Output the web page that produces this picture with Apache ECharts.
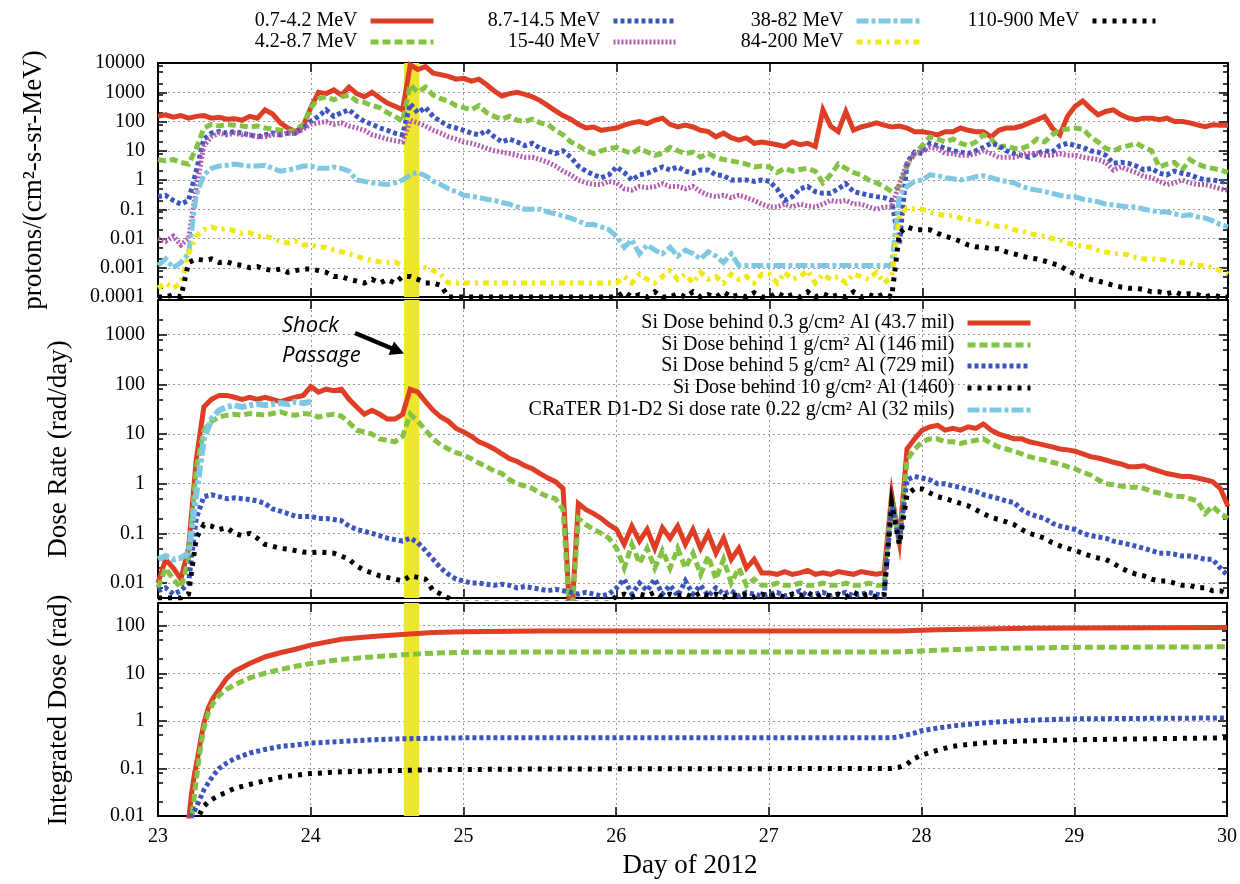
<!DOCTYPE html>
<html><head><meta charset="utf-8">
<script src="https://cdn.jsdelivr.net/npm/echarts@6.0.0/dist/echarts.min.js"></script>
<style>html,body{margin:0;padding:0;background:#fff}#c{width:1240px;height:884px}</style>
</head><body><div id="c"></div>
<script>
// ---------- sampling grid (day of 2012, 0.05 day steps) ----------
const days = Array.from({length: 141}, (_, i) => +(23 + i * 0.05).toFixed(2));
const dayTicks = [23, 24, 25, 26, 27, 28, 29, 30];
const fluxTicks = [0.0001, 0.001, 0.01, 0.1, 1, 10, 100, 1000, 10000];
const rateTicks = [0.01, 0.1, 1, 10, 100, 1000];
const doseTicks = [0.01, 0.1, 1, 10, 100];
const shockStart = 24.61, shockEnd = 24.71;

// ---------- proton flux, protons/(cm2-s-sr-MeV) ----------
const fluxNames = ['0.7-4.2 MeV', '4.2-8.7 MeV', '8.7-14.5 MeV', '15-40 MeV', '38-82 MeV', '84-200 MeV', '110-900 MeV'];
const flux07_42 = [
 150,170,140,160,130,150,160,130,140,120,125,110,150,130,250,180,90,60,45,70,
 300,1000,900,1200,800,1500,900,700,1000,650,430,330,250,8500,6000,7500,4500,4000,3500,2800,
 3000,2400,2800,1800,1100,750,900,1000,850,700,520,350,230,160,120,80,60,65,50,55,
 60,75,90,100,85,110,130,80,65,75,65,50,45,30,40,28,23,28,18,20,
 18,16,14,20,16,18,14,250,70,45,220,50,65,75,90,75,65,70,60,45,
 45,40,35,45,45,60,50,45,45,30,50,60,60,70,90,115,150,60,35,150,
 330,500,280,170,220,250,170,130,115,130,130,115,130,100,100,90,77,67,77,75,
 75];
const flux42_87 = [
 5,4.5,5,4,3.5,12,60,80,70,80,75,70,65,70,60,55,50,45,50,80,
 300,600,700,550,700,800,500,450,350,300,200,150,100,1800,1000,1500,800,600,500,350,
 300,250,350,200,150,120,150,110,100,120,90,80,50,35,20,15,10,8,10,12,
 13,10,8,12,9,7,8,13,10,8,9,6,8,6,5,4.5,4,3.5,2.8,3,
 2.8,1.8,2.5,2,2.3,2.5,2,0.8,1.5,3.5,2.5,1.8,1.5,1,0.8,0.6,0.4,0.6,3,8,
 15,30,25,20,25,18,15,20,35,25,13,15,12,12,15,25,20,35,52,55,
 60,55,30,20,12,10,13,15,18,13,10,2.8,3.5,4,2.2,5,3.5,2.8,2.5,2.2,
 1.8];
const flux87_145 = [
 0.27,0.3,0.2,0.15,0.2,2,25,40,45,40,45,40,35,30,35,40,35,40,40,60,
 100,150,250,150,200,250,150,100,80,60,50,40,35,400,200,300,150,100,70,60,
 50,40,35,50,30,20,25,20,15,18,12,10,8,10,6,3,2,1.5,1.2,1.5,
 2.8,1.8,1,1.5,1.7,2.2,2.8,2.2,2.8,2,1.7,2.2,2.2,1.5,1.4,1,1,1,0.9,1,
 0.9,0.5,0.2,0.27,0.5,0.6,0.4,0.35,0.35,0.5,0.75,0.4,0.35,0.3,0.27,0.25,0.2,0.006,4,9,
 8,18,15,12,10,9,8,10,13,18,15,10,8,7,6,8,10,9,15,18,
 15,13,10,9,7,3.7,4,3.7,3,2.2,2.5,1.7,1.5,2,1.7,1.5,1.2,1,1,0.9,
 0.8];
const flux15_40 = [
 0.01,0.008,0.012,0.006,0.01,0.5,15,30,40,35,40,35,35,30,30,35,35,40,40,55,
 80,90,100,80,90,70,60,50,35,30,25,22,20,110,90,70,50,40,30,25,
 20,18,15,12,10,9,8,7,6,6,5,4,3,2,1.5,1,0.8,0.7,0.7,0.9,
 0.8,0.5,0.45,0.6,0.55,0.6,0.75,0.6,0.6,0.5,0.6,0.4,0.3,0.27,0.3,0.25,0.3,0.25,0.2,0.15,
 0.12,0.12,0.15,0.12,0.15,0.13,0.12,0.15,0.2,0.18,0.2,0.15,0.15,0.12,0.1,0.12,0.12,0.75,3.7,8,
 10,13,12,8,8,7,7,8,10,8,6,6,6,7,8,8,7,7,8,7,
 7,6,5.5,5,4,2.2,2.8,2.2,1.8,1.3,1.2,0.9,0.7,0.8,1,0.8,0.7,0.7,0.6,0.5,
 0.45];
const flux38_82 = [
 0.0012,0.002,0.001,0.0015,0.003,0.3,1.5,2.5,3,3.2,3.5,3.2,3,3,3.2,2.5,2,2.2,2.5,3,
 3,2.5,2.5,2.8,2.5,2,1,0.9,0.8,0.75,0.7,0.8,1,1.5,1.8,1.4,0.9,0.7,0.5,0.4,
 0.3,0.28,0.25,0.22,0.2,0.17,0.15,0.12,0.1,0.1,0.1,0.08,0.07,0.06,0.05,0.04,0.03,0.03,0.025,0.02,
 0.012,0.005,0.009,0.003,0.006,0.004,0.003,0.005,0.0025,0.004,0.003,0.002,0.0035,0.0025,0.0015,0.003,0.0012,0.0012,0.0012,0.0012,
 0.0012,0.0012,0.0012,0.0012,0.0012,0.0012,0.0012,0.0012,0.0012,0.0012,0.0012,0.0012,0.0012,0.0012,0.0012,0.0012,0.0012,0.3,0.6,0.9,
 1,1.5,1.4,1.2,1.1,1,1.1,1.3,1.4,1.2,1,0.9,0.8,0.6,0.5,0.45,0.4,0.35,0.3,0.27,
 0.27,0.22,0.2,0.18,0.15,0.14,0.13,0.12,0.12,0.1,0.09,0.08,0.08,0.07,0.06,0.065,0.055,0.05,0.04,0.03,
 0.025];
const flux84_200 = [
 0.0002,0.0003,0.0002,0.0003,0.003,0.012,0.02,0.025,0.02,0.022,0.018,0.015,0.016,0.012,0.012,0.01,0.008,0.007,0.008,0.006,
 0.006,0.005,0.005,0.004,0.0035,0.003,0.0025,0.002,0.0018,0.0016,0.0015,0.0016,0.0012,0.0012,0.001,0.001,0.0008,0.0006,0.0003,0.0003,
 0.0003,0.0003,0.0003,0.0003,0.0003,0.0003,0.0003,0.0003,0.0003,0.0003,0.0003,0.0003,0.0003,0.0003,0.0003,0.0003,0.0003,0.0003,0.0003,0.0003,
 0.0003,0.0005,0.0003,0.0006,0.0004,0.0003,0.0005,0.0008,0.0004,0.0006,0.0003,0.0007,0.0004,0.0005,0.0003,0.0006,0.0004,0.0005,0.0003,0.0006,
 0.0006,0.0003,0.0007,0.0004,0.0005,0.0008,0.0003,0.0006,0.0004,0.0005,0.0003,0.0006,0.0005,0.0004,0.0007,0.0003,0.0005,0.06,0.11,0.1,
 0.1,0.08,0.07,0.06,0.06,0.05,0.045,0.04,0.035,0.03,0.025,0.025,0.02,0.018,0.015,0.013,0.012,0.01,0.009,0.007,
 0.006,0.0055,0.005,0.004,0.0035,0.003,0.003,0.0028,0.0022,0.002,0.002,0.002,0.0018,0.0016,0.0015,0.0014,0.0012,0.0012,0.001,0.0008,
 0.0006];
const flux110_900 = [
 0.0001,0.0001,0.00012,0.0001,0.0015,0.002,0.0018,0.002,0.0015,0.0016,0.0013,0.0012,0.001,0.0011,0.0009,0.0008,0.0009,0.0007,0.0008,0.0009,
 0.0009,0.0008,0.0007,0.0005,0.0005,0.0004,0.00035,0.0003,0.0004,0.0003,0.0004,0.0003,0.0005,0.0005,0.0004,0.0003,0.0003,0.00025,0.0001,0.0001,
 0.0001,0.0001,0.0001,0.0001,0.0001,0.0001,0.0001,0.0001,0.0001,0.0001,0.0001,0.0001,0.0001,0.0001,0.0001,0.0001,0.0001,0.0001,0.0001,0.0001,
 0.0001,0.00015,0.0001,0.00012,0.0001,0.00015,0.0001,0.0001,0.00013,0.0001,0.00015,0.0001,0.00012,0.0001,0.00015,0.0001,0.00012,0.0001,0.00014,0.0001,
 0.0001,0.00014,0.0001,0.00012,0.0001,0.00015,0.0001,0.00013,0.0001,0.00012,0.0001,0.00015,0.0001,0.00012,0.0001,0.00013,0.0001,0.015,0.025,0.02,
 0.02,0.02,0.015,0.012,0.01,0.008,0.006,0.0052,0.005,0.0045,0.0045,0.0035,0.003,0.0025,0.0022,0.002,0.0017,0.0014,0.0012,0.0008,
 0.0006,0.0005,0.0004,0.00035,0.0003,0.00025,0.00022,0.0002,0.0002,0.00018,0.00015,0.00015,0.00013,0.00015,0.00012,0.00013,0.00012,0.0001,0.00012,0.0001,
 0.0001];

// ---------- dose rate, rad/day ----------
const rateNames = [
 'Si Dose behind 0.3 g/cm\u00B2 Al (43.7 mil)',
 'Si Dose behind 1 g/cm\u00B2 Al (146 mil)',
 'Si Dose behind 5 g/cm\u00B2 Al (729 mil)',
 'Si Dose behind 10 g/cm\u00B2 Al (1460)',
 'CRaTER D1-D2 Si dose rate 0.22 g/cm\u00B2 Al (32 mils)'];
const rate03 = [
 0.01,0.03,0.02,0.012,0.05,3,35,50,60,60,55,50,55,50,55,50,45,50,55,60,
 90,70,80,75,80,50,35,25,30,25,20,20,25,80,70,45,30,22,18,13,
 11,9,7,6,5,4,3.2,2.8,2.3,2,1.6,1.3,1.1,0.8,0.001,0.4,0.3,0.25,0.2,0.15,
 0.12,0.06,0.14,0.07,0.12,0.05,0.13,0.08,0.14,0.06,0.12,0.05,0.1,0.04,0.08,0.03,0.05,0.02,0.03,0.016,
 0.016,0.015,0.017,0.015,0.016,0.018,0.015,0.016,0.015,0.017,0.016,0.015,0.017,0.016,0.015,0.016,0.6,0.07,5,8,
 12,14,15,12,13,12,14,13,16,12,10,9,8,8,7,6.5,6,5.5,5,4.8,
 4.5,4,3.5,3.3,3,2.7,2.5,2.2,2.2,2.3,2,1.8,1.6,1.5,1.4,1.4,1.3,1.2,1.1,0.8,
 0.35];
const rate1 = [
 0.008,0.02,0.012,0.008,0.03,2,12,18,22,24,25,24,26,25,24,26,28,25,24,26,
 25,22,24,25,23,17,12,11,10,8,7.5,7,9,25,18,12,8,6,5,4.2,
 3.8,3.2,2.6,2.2,1.8,1.6,1.2,1,0.9,0.8,0.65,0.55,0.5,0.3,0.001,0.2,0.15,0.12,0.1,0.08,
 0.05,0.02,0.06,0.025,0.05,0.02,0.045,0.02,0.05,0.02,0.04,0.015,0.035,0.012,0.03,0.01,0.02,0.009,0.012,0.009,
 0.009,0.01,0.009,0.009,0.01,0.009,0.009,0.01,0.009,0.009,0.01,0.009,0.009,0.01,0.009,0.009,0.5,0.06,3,5,
 7,8,8,7,7,6.5,7,7.5,8,6.5,5.5,5,4.5,4,3.5,3.2,3,2.7,2.5,2.2,
 2,1.7,1.5,1.2,1,0.95,0.9,0.85,0.85,0.8,0.7,0.65,0.6,0.55,0.55,0.5,0.45,0.25,0.35,0.25,
 0.2];
const rate5 = [
 0.007,0.008,0.006,0.007,0.01,0.2,0.55,0.6,0.55,0.5,0.52,0.5,0.48,0.45,0.4,0.31,0.28,0.25,0.22,0.22,
 0.22,0.2,0.2,0.19,0.18,0.14,0.12,0.11,0.1,0.09,0.08,0.075,0.07,0.08,0.065,0.045,0.03,0.02,0.015,0.012,
 0.011,0.01,0.01,0.0095,0.009,0.0095,0.009,0.008,0.0085,0.008,0.0075,0.007,0.0075,0.007,0.0065,0.006,0.0065,0.006,0.0055,0.006,
 0.008,0.012,0.006,0.01,0.007,0.012,0.006,0.009,0.0055,0.011,0.006,0.009,0.0055,0.008,0.006,0.007,0.0055,0.0065,0.006,0.0055,
 0.006,0.0065,0.0055,0.006,0.007,0.0055,0.006,0.0065,0.0055,0.006,0.0065,0.0055,0.006,0.0065,0.006,0.0055,0.4,0.07,1.2,1.4,
 1.3,1.2,1,1,0.9,0.85,0.75,0.7,0.6,0.55,0.5,0.45,0.42,0.3,0.25,0.22,0.2,0.16,0.14,0.13,
 0.12,0.1,0.09,0.085,0.08,0.07,0.065,0.06,0.055,0.05,0.045,0.04,0.04,0.038,0.035,0.035,0.033,0.03,0.03,0.02,
 0.014];
const rate10 = [
 0.005,0.005,0.005,0.005,0.006,0.08,0.15,0.14,0.12,0.13,0.1,0.09,0.1,0.08,0.06,0.055,0.05,0.048,0.045,0.042,
 0.041,0.042,0.041,0.04,0.035,0.03,0.022,0.018,0.016,0.014,0.013,0.012,0.011,0.014,0.013,0.012,0.007,0.006,0.005,0.004,
 0.004,0.004,0.004,0.004,0.004,0.004,0.004,0.004,0.004,0.004,0.004,0.004,0.004,0.004,0.004,0.004,0.004,0.004,0.004,0.004,
 0.0055,0.006,0.0052,0.006,0.0055,0.0065,0.0052,0.006,0.0055,0.006,0.0052,0.0065,0.0055,0.006,0.0052,0.006,0.0055,0.006,0.0052,0.006,
 0.0055,0.006,0.0052,0.006,0.0055,0.0065,0.0052,0.006,0.0055,0.006,0.0052,0.0065,0.0055,0.006,0.0052,0.006,0.4,0.06,0.6,0.8,
 0.78,0.65,0.55,0.5,0.45,0.4,0.36,0.3,0.25,0.21,0.19,0.17,0.15,0.12,0.1,0.09,0.08,0.065,0.056,0.05,
 0.045,0.04,0.035,0.032,0.03,0.025,0.02,0.017,0.015,0.014,0.012,0.011,0.011,0.01,0.009,0.009,0.008,0.008,0.007,0.007,
 0.006];
const rateCrater = [
 0.03,0.035,0.03,0.032,0.04,0.6,8,20,30,35,38,35,38,40,38,40,42,40,45,42,
 45];

// ---------- integrated dose, rad ----------
const intDays = [23.18,23.2,23.22,23.24,23.26,23.28,23.3,23.33,23.36,23.4,
 23.45,23.5,23.6,23.7,23.8,23.9,24.0,24.2,24.4,24.6,
 24.8,25.0,25.5,26.0,26.5,27.0,27.5,27.8,27.85,27.9,
 27.95,28.0,28.1,28.2,28.3,28.4,28.5,28.7,29.0,29.5,30.0];
const dose03 = [0.004,0.008,0.03,0.08,0.17,0.4,0.88,1.9,3.0,4.6,
 7.8,11,16,22,27,32,39,52,59,65,
 72,75,77,77,77,77,77,77,77,78,
 79,80,82,83,84,85,86,88,90,91,92];
const dose1 = [0.002,0.004,0.008,0.03,0.1,0.3,0.7,1.5,2.3,3.4,
 4.6,5.7,8,10,12,14,16,19.5,22,24.5,
 26.5,27.5,28,28,28,28,28,28,28.2,28.5,
 29,29.5,30.5,31.5,32,33,33.5,34,35,35.5,36];
const dose5 = [0.005,0.007,0.01,0.013,0.018,0.025,0.035,0.05,0.07,0.1,
 0.13,0.16,0.21,0.25,0.29,0.31,0.34,0.37,0.4,0.42,
 0.43,0.44,0.44,0.44,0.44,0.44,0.44,0.44,0.46,0.5,
 0.55,0.62,0.7,0.78,0.84,0.9,0.95,1.03,1.1,1.13,1.15];
const dose10 = [0.003,0.004,0.005,0.007,0.009,0.012,0.016,0.02,0.023,0.027,
 0.032,0.038,0.046,0.055,0.065,0.072,0.078,0.085,0.088,0.091,
 0.094,0.095,0.097,0.098,0.098,0.099,0.1,0.1,0.105,0.12,
 0.16,0.19,0.24,0.29,0.32,0.34,0.36,0.38,0.4,0.42,0.44];

// ---------- styles ----------
const FONT = 'Liberation Serif';
const ST = {
  red:     {color: '#DE3D26', width: 5, type: 'solid'},
  green:   {color: '#84C243', width: 5, type: [8, 4]},
  blue:    {color: '#3C55BE', width: 5, type: [4, 3]},
  magenta: {color: '#B25CB2', width: 5, type: [2, 2]},
  cyan:    {color: '#7EC8E2', width: 5, type: [12, 3, 4, 3]},
  yellow:  {color: '#F0E814', width: 5, type: [6, 5, 3, 5]},
  black:   {color: '#000000', width: 5, type: [4, 6]}
};
const grids = [
  {left: 158, right: 12, top: 63, height: 234},
  {left: 158, right: 12, top: 300, height: 298},
  {left: 158, right: 12, top: 603, height: 213}
];
const yRange = [[1e-4, 1e4], [0.005, 5000], [0.01, 300]];
const majors = [fluxTicks, rateTicks, doseTicks];
function minorsFor(r) {
  const out = [];
  for (let e = -5; e <= 4; e++) for (const m of [2, 5, 8]) {
    const v = +(m * Math.pow(10, e)).toPrecision(3);
    if (v > r[0] * 1.0001 && v < r[1] * 0.9999) out.push(v);
  }
  return out;
}
const fmt = v => String(+(+v).toPrecision(4));
const gridLine = {show: true, lineStyle: {color: '#9a9a9a', type: [2, 3], width: 1}};
const axLine = {show: true, onZero: false, lineStyle: {color: '#000', width: 2}};

const xAxis = [], yAxis = [];
grids.forEach((g, gi) => {
  xAxis.push({gridIndex: gi, type: 'value', min: 23, max: 30, interval: 1, position: 'bottom',
    axisLine: axLine, axisTick: {inside: true, length: 9, lineStyle: {color: '#000', width: 1.5}},
    axisLabel: {show: gi === 2, fontFamily: FONT, fontSize: 20, color: '#000', margin: 11, formatter: fmt},
    splitLine: gridLine});
  xAxis.push({gridIndex: gi, type: 'value', min: 23, max: 30, interval: 1, position: 'top',
    axisLine: axLine, axisTick: {inside: true, length: 9, lineStyle: {color: '#000', width: 1.5}},
    axisLabel: {show: false}, splitLine: {show: false}});
  const r = yRange[gi], mn = minorsFor(r);
  yAxis.push({gridIndex: gi, type: 'log', logBase: 10, min: r[0], max: r[1], position: 'left',
    axisLine: axLine,
    axisTick: {inside: true, length: 9, customValues: majors[gi], lineStyle: {color: '#000', width: 1.5}},
    axisLabel: {customValues: majors[gi], formatter: fmt, fontFamily: FONT, fontSize: 20, color: '#000', margin: 13},
    splitLine: gridLine});
  yAxis.push({gridIndex: gi, type: 'log', logBase: 10, min: r[0], max: r[1], position: 'left',
    axisLine: {show: false},
    axisTick: {inside: true, length: 5, customValues: mn, lineStyle: {color: '#000', width: 1.5}},
    axisLabel: {show: false}, splitLine: {show: false}});
  yAxis.push({gridIndex: gi, type: 'log', logBase: 10, min: r[0], max: r[1], position: 'right',
    axisLine: axLine,
    axisTick: {inside: true, length: 9, customValues: majors[gi], lineStyle: {color: '#000', width: 1.5}},
    axisLabel: {show: false}, splitLine: {show: false}});
  yAxis.push({gridIndex: gi, type: 'log', logBase: 10, min: r[0], max: r[1], position: 'right',
    axisLine: {show: false},
    axisTick: {inside: true, length: 5, customValues: mn, lineStyle: {color: '#000', width: 1.5}},
    axisLabel: {show: false}, splitLine: {show: false}});
});

function mk(name, vals, gi, st, xs, z, band) {
  xs = xs || days;
  const s = {
    name, type: 'line', xAxisIndex: gi * 2, yAxisIndex: gi * 4,
    data: vals.map((v, i) => [xs[i], v]),
    symbol: 'none', showSymbol: false, silent: true, animation: false, clip: true,
    color: st.color, itemStyle: {color: st.color},
    lineStyle: {color: st.color, width: st.width, type: st.type, cap: 'butt', join: 'miter'},
    z: z
  };
  if (band) s.markArea = {silent: true, itemStyle: {color: '#EEE62A', opacity: 1},
    data: [[{xAxis: shockStart}, {xAxis: shockEnd}]]};
  return s;
}

const series = [
  mk(fluxNames[0], flux07_42, 0, ST.red, null, 2, true),
  mk(fluxNames[1], flux42_87, 0, ST.green, null, 3),
  mk(fluxNames[2], flux87_145, 0, ST.blue, null, 4),
  mk(fluxNames[3], flux15_40, 0, ST.magenta, null, 5),
  mk(fluxNames[4], flux38_82, 0, ST.cyan, null, 6),
  mk(fluxNames[5], flux84_200, 0, ST.yellow, null, 7),
  mk(fluxNames[6], flux110_900, 0, ST.black, null, 8),
  mk(rateNames[0], rate03, 1, ST.red, null, 2, true),
  mk(rateNames[1], rate1, 1, ST.green, null, 3),
  mk(rateNames[2], rate5, 1, ST.blue, null, 4),
  mk(rateNames[3], rate10, 1, ST.black, null, 5),
  mk(rateNames[4], rateCrater, 1, {color: '#7EC8E2', width: 6, type: [12, 3, 4, 3]}, null, 6),
  mk('Integrated 0.3', dose03, 2, {color: '#DE3D26', width: 5, type: 'solid'}, intDays, 2, true),
  mk('Integrated 1', dose1, 2, {color: '#84C243', width: 5, type: [8, 4]}, intDays, 3),
  mk('Integrated 5', dose5, 2, {color: '#3C55BE', width: 5, type: [4, 3]}, intDays, 4),
  mk('Integrated 10', dose10, 2, {color: '#000000', width: 5, type: [4, 6]}, intDays, 5)
];

// legend placement (one component per entry so text is right-aligned next to its sample)
const legendSpots = [
  [fluxNames[0], 804, 11], [fluxNames[1], 804, 32],
  [fluxNames[2], 561, 11], [fluxNames[3], 561, 32],
  [fluxNames[4], 318, 11], [fluxNames[5], 318, 32],
  [fluxNames[6], 82, 11],
  [rateNames[0], 207, 313], [rateNames[1], 207, 335], [rateNames[2], 207, 356],
  [rateNames[3], 207, 378], [rateNames[4], 207, 400]
];
const legend = legendSpots.map(([n, r, t]) => ({
  data: [n],
  right: r, top: t, orient: 'horizontal', align: 'right', padding: 0,
  itemWidth: 63, itemHeight: 14, selectedMode: false,
  itemStyle: {opacity: 0, borderWidth: 0},
  lineStyle: {width: 5},
  textStyle: {fontFamily: FONT, fontSize: 20, color: '#000', lineHeight: 20, padding: [0, 8, 0, 0]}
}));

const titleFont = '27px "Liberation Serif"';
const graphic = [
  {type: 'text', x: 34, y: 180, rotation: Math.PI / 2, silent: true,
   style: {text: 'protons/(cm\u00B2-s-sr-MeV)', font: titleFont, fill: '#000', align: 'center', verticalAlign: 'middle'}},
  {type: 'text', x: 59, y: 449, rotation: Math.PI / 2, silent: true,
   style: {text: 'Dose Rate (rad/day)', font: titleFont, fill: '#000', align: 'center', verticalAlign: 'middle'}},
  {type: 'text', x: 59, y: 710, rotation: Math.PI / 2, silent: true,
   style: {text: 'Integrated Dose (rad)', font: titleFont, fill: '#000', align: 'center', verticalAlign: 'middle'}},
  {type: 'text', x: 690, y: 866, silent: true,
   style: {text: 'Day of 2012', font: titleFont, fill: '#000', align: 'center', verticalAlign: 'middle'}},
  {type: 'text', x: 282, y: 326, silent: true, z: 100,
   style: {text: 'Shock', font: 'italic 22px "Open Sans"', fill: '#000', align: 'left', verticalAlign: 'middle'}},
  {type: 'text', x: 282, y: 356, silent: true, z: 100,
   style: {text: 'Passage', font: 'italic 22px "Open Sans"', fill: '#000', align: 'left', verticalAlign: 'middle'}},
  {type: 'line', silent: true, z: 100, shape: {x1: 355, y1: 333, x2: 392, y2: 348.5},
   style: {stroke: '#000', lineWidth: 4.5}},
  {type: 'polygon', silent: true, z: 100, shape: {points: [[404, 353.5], [388.5, 355], [394, 341.5]]},
   style: {fill: '#000'}}
];

const chart = echarts.init(document.getElementById('c'), null, {renderer: 'canvas'});
chart.setOption({
  backgroundColor: '#fff',
  animation: false,
  grid: grids,
  xAxis, yAxis, series, legend, graphic
});
</script>
</body></html>
